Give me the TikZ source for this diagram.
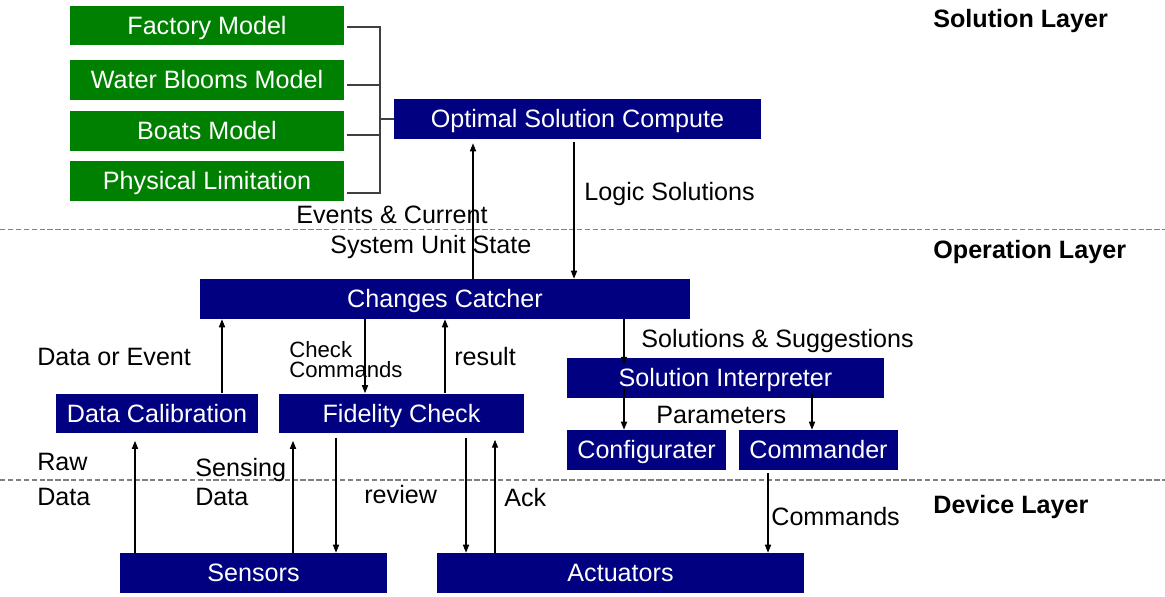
\documentclass[tikz,border=0pt]{standalone}
\usepackage{fontspec}
\setmainfont{Liberation Sans}
\usetikzlibrary{arrows.meta}
\definecolor{navybox}{RGB}{0,0,128}
\definecolor{modelgreen}{RGB}{0,128,0}

\begin{document}
\begin{tikzpicture}[
    x=0.02cm,
    y=-0.02cm,
    font=\fontsize{14.3}{17}\selectfont,
    unit/.style={fill=navybox, text=white, inner sep=0pt, minimum height=0.8cm, text height=10.2pt, text depth=0pt},
    model/.style={fill=modelgreen, text=white, inner sep=0pt, minimum height=0.79cm, minimum width=5.48cm, text height=10.2pt, text depth=0pt},
    lbl/.style={anchor=west, inner sep=0pt, text height=10.2pt, text depth=0pt},
    layername/.style={lbl, font=\fontsize{14.3}{17}\selectfont\bfseries},
    flow/.style={line width=0.6pt, -{Triangle[length=4.5pt,width=3.5pt]}},
    link/.style={line width=0.6pt, black!75},
    layer/.style={dash pattern=on 3pt off 1.5pt, gray, line width=0.6pt}
]
\useasboundingbox (0,0) rectangle (1165,597);

% Layers
\draw[layer] (0,229.5) -- (1165,229.5);
\draw[layer] (0,480) -- (1165,480);
\node[layername] (solution) at (933,19) {Solution Layer};
\node[layername] (operation) at (933,250) {Operation Layer};
\node[layername] (device) at (933,505) {Device Layer};

% Solution layer
\node[model] (factory) at (207,25.5) {Factory Model};
\node[model] (blooms) at (207,80) {Water Blooms Model};
\node[model] (boats) at (207,131) {Boats Model};
\node[model] (limits) at (207,181) {Physical Limitation};
\node[unit, minimum width=7.34cm] (optimal) at (577.5,119) {Optimal Solution Compute};

\draw[link] ([shift={(3,1.5)}]factory.east) -| (380,119) |- ([shift={(3,12)}]limits.east);
\draw[link] ([shift={(3,5)}]blooms.east) -- ++(33,0);
\draw[link] ([shift={(3,4)}]boats.east) -- ++(33,0);
\draw[link] (optimal.west) -- ++(-14,0);

% Operation layer
\node[unit, minimum width=9.8cm] (catcher) at (445,299) {Changes Catcher};
\node[unit, minimum width=4.04cm] (calib) at (157,413.5) {Data Calibration};
\node[unit, minimum width=4.9cm] (fidelity) at (401.5,413.5) {Fidelity Check};
\node[unit, minimum width=6.34cm] (interp) at (725.5,378) {Solution Interpreter};
\node[unit, minimum width=3.18cm] (config) at (646.5,450) {Configurater};
\node[unit, minimum width=3.18cm] (commander) at (818.5,450) {Commander};

% Device layer
\node[unit, minimum width=5.34cm] (sensors) at (253.5,573) {Sensors};
\node[unit, minimum width=7.34cm] (actuators) at (620.5,573) {Actuators};

% Flows
\draw[flow, shorten >=2.3pt] (catcher.north -| 473,0) -- (optimal.south -| 473,0);
\draw[flow, shorten <=1.7pt] (optimal.south -| 574,0) -- (catcher.north -| 574,0);
\draw[flow] (calib.north -| 222,0) -- (catcher.south -| 222,0);
\draw[flow] (catcher.south -| 365,0) -- (fidelity.north -| 365,0);
\draw[flow] (fidelity.north -| 445,0) -- (catcher.south -| 445,0);
\draw[flow, shorten >=-4pt] (catcher.south -| 624,0) -- (interp.north -| 624,0);
\draw[flow, shorten <=-6.5pt] (interp.south -| 624,0) -- (config.north -| 624,0);
\draw[flow, shorten <=-2.5pt] (interp.south -| 812,0) -- (commander.north -| 812,0);
\draw[flow, shorten <=1.7pt] (commander.south -| 768,0) -- (actuators.north -| 768,0);
\draw[flow, shorten <=2.3pt] (fidelity.south -| 466,0) -- (actuators.north -| 466,0);
\draw[flow, shorten >=3.4pt] (actuators.north -| 495,0) -- (fidelity.south -| 495,0);
\draw[flow, shorten >=4pt] (sensors.north -| 135,0) -- (calib.south -| 135,0);
\draw[flow, shorten >=4pt] (sensors.north -| 293,0) -- (fidelity.south -| 293,0);
\draw[flow, shorten <=2.3pt] (fidelity.south -| 336,0) -- (sensors.north -| 336,0);

% Labels
\node[lbl] (logic) at (584,192) {Logic Solutions};
\node[lbl] (events) at (296,215) {Events \& Current};
\node[lbl] (unitstate) at (330,245) {System Unit State};
\node[lbl] (dataevent) at (37,357) {Data or Event};
\node[anchor=west, inner sep=0pt, align=left, font=\fontsize{12.6}{11.3}\selectfont] (checkcmd) at (289,360) {Check\\Commands};
\node[lbl] (result) at (454,357) {result};
\node[lbl] (suggest) at (641,339) {Solutions \& Suggestions};
\node[lbl] (params) at (656,415) {Parameters};
\node[lbl] (raw) at (37,462) {Raw};
\node[lbl] (rawdata) at (37,497) {Data};
\node[lbl] (sensing) at (195,468) {Sensing};
\node[lbl] (sensingdata) at (195,497) {Data};
\node[lbl] (review) at (364,495) {review};
\node[lbl] (ack) at (504,498) {Ack};
\node[lbl] (commands) at (771,517) {Commands};

\end{tikzpicture}
\end{document}
